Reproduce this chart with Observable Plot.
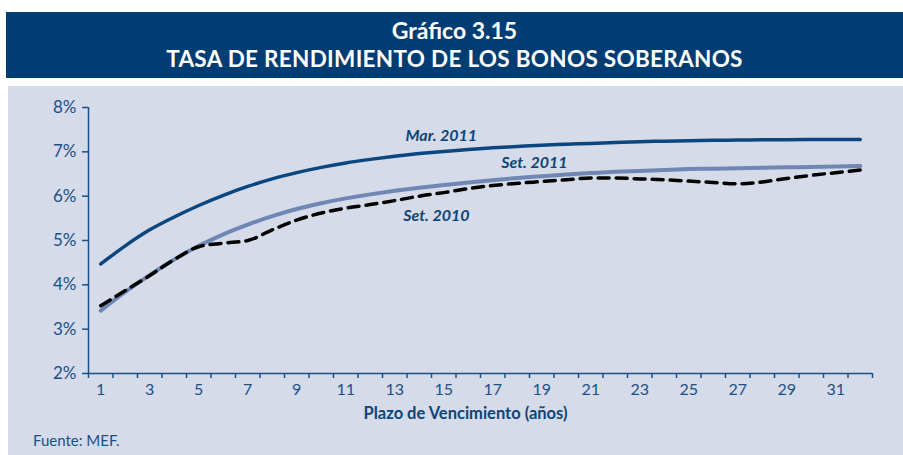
<!DOCTYPE html>
<html>
<head>
<meta charset="utf-8">
<script src="https://cdn.jsdelivr.net/npm/d3@7"></script>
<script src="https://cdn.jsdelivr.net/npm/@observablehq/plot@0.6"></script>
<style>
  html, body { margin: 0; padding: 0; background: #ffffff; }
  body { width: 903px; height: 455px; position: relative; overflow: hidden;
         font-family: Lato, "Noto Sans", sans-serif; }
  #band { position: absolute; left: 6px; top: 12px; width: 897px; height: 66px; background: #013d72;
          color: #fff; text-align: center; font-weight: bold; }
  #t1 { position: absolute; left: 0; right: 0; top: 4px; font-size: 23px; }
  #t2 { position: absolute; left: 0; right: 0; top: 33px; font-size: 22.5px; letter-spacing: 0.3px; }
  #panel { position: absolute; left: 8px; top: 86px; width: 895px; height: 369px; background: #d5dbe8; }
  #chart { position: absolute; left: 0; top: 0; }
  #source { position: absolute; left: 33px; top: 431px; font-size: 15px; color: #1b4f86; }
</style>
</head>
<body>
<div id="band"><div id="t1">Gráfico 3.15</div><div id="t2">TASA DE RENDIMIENTO DE LOS BONOS SOBERANOS</div></div>
<div id="panel"></div>
<div id="chart"></div>
<div id="source">Fuente: MEF.</div>
<script>
const years = d3.range(1, 33);
const mar2011 = [4.47,4.88,5.24,5.53,5.79,6.02,6.22,6.39,6.53,6.65,6.75,6.83,6.90,6.96,7.01,7.05,7.09,7.12,7.15,7.17,7.19,7.21,7.23,7.24,7.25,7.26,7.265,7.27,7.275,7.28,7.28,7.28];
const set2011 = [3.42,3.84,4.22,4.57,4.88,5.14,5.36,5.55,5.71,5.84,5.95,6.04,6.12,6.19,6.25,6.31,6.36,6.41,6.45,6.49,6.52,6.55,6.57,6.59,6.61,6.62,6.63,6.64,6.65,6.66,6.67,6.68];
const set2010 = [3.53,3.87,4.21,4.57,4.86,4.94,5.00,5.24,5.46,5.62,5.73,5.81,5.90,6.00,6.08,6.17,6.24,6.29,6.33,6.37,6.41,6.41,6.39,6.37,6.34,6.31,6.28,6.32,6.40,6.47,6.53,6.59];
const yTicks = [2,3,4,5,6,7,8];
const xTickLabels = d3.range(1, 33, 2);
const xTickMarks = d3.range(0.5, 33, 1);
const seriesLabels = ["Mar. 2011", "Set. 2011", "Set. 2010"];
const labelX = [14.9, 18.7, 14.7];
const labelY = [7.35, 6.76, 5.56];

const mk = (vals) => years.map((x, i) => ({x, y: vals[i]}));
const labels = seriesLabels.map((t, i) => ({t, x: labelX[i], y: labelY[i]}));
const blue = "#1b4f86";
const font = "Lato, Noto Sans, sans-serif";

const chart = Plot.plot({
  width: 903, height: 455,
  marginLeft: 88, marginRight: 31, marginTop: 107, marginBottom: 82,
  style: {background: "transparent", fontFamily: font, overflow: "visible"},
  x: {domain: [0.5, 32.5]},
  y: {domain: [2, 8]},
  marks: [
    Plot.axisY({ticks: yTicks, tickFormat: d => d + "%", tickSize: 6, tickPadding: 6, stroke: blue, fill: blue, fontSize: 17, label: null, strokeWidth: 1.5}),
    Plot.axisX({ticks: xTickMarks, tickFormat: () => "", tickSize: 5, stroke: blue, label: null, strokeWidth: 1.5}),
    Plot.axisX({ticks: xTickLabels, tickSize: 0, tickPadding: 10, fill: blue, fontSize: 16, label: null}),
    Plot.ruleX([0.5], {stroke: blue, strokeWidth: 1.5}),
    Plot.ruleY([2], {stroke: blue, strokeWidth: 1.5}),
    Plot.line(mk(set2011), {x: "x", y: "y", stroke: "#6f87b4", strokeWidth: 4, curve: "monotone-x"}),
    Plot.line(mk(set2010), {x: "x", y: "y", stroke: "#000", strokeWidth: 3.5, strokeDasharray: "11,7", curve: "monotone-x"}),
    Plot.line(mk(mar2011), {x: "x", y: "y", stroke: "#0a467f", strokeWidth: 3.5, curve: "monotone-x"}),
    Plot.text(labels, {x: "x", y: "y", text: "t", fill: "#0d4479", fontSize: 16, fontWeight: "bold", fontStyle: "italic"}),
    Plot.text(["Plazo de Vencimiento (años)"], {frameAnchor: "bottom", dx: -15, dy: 45, fill: "#0d4479", fontSize: 16.5, fontWeight: "bold"})
  ]
});
document.getElementById("chart").appendChild(chart);
</script>
</body>
</html>
